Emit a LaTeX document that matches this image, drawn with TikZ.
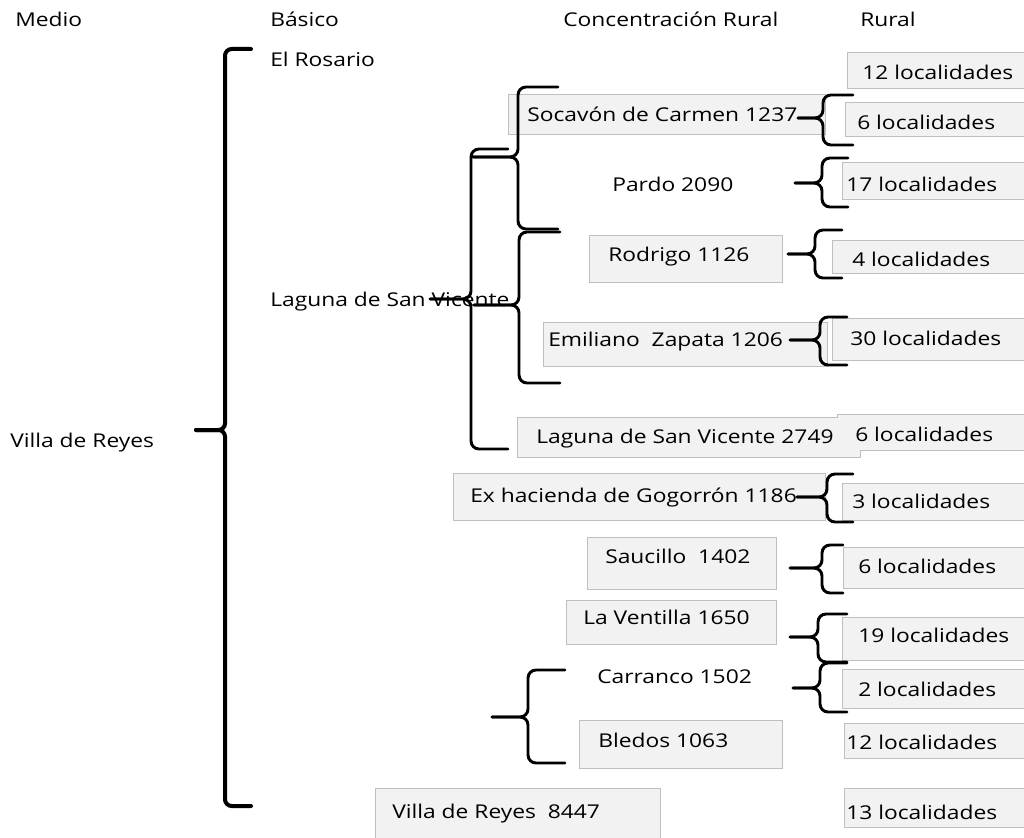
\documentclass[tikz,border=0pt]{standalone}
\usepackage{fontspec}
\setmainfont{Open Sans}[FakeStretch=1.2]
\usepackage{tikz}

% #2 tip x, #3 spine x, #4 top y, #5 tip y, #6 bottom y, #7 end x
\newcommand{\bracegroup}[7][]{%
  \draw[brace,#1] (#7,#4) -- (#3,#4) -- (#3,#5) -- (#2,#5);
  \draw[brace,#1] (#2,#5) -- (#3,#5) -- (#3,#6) -- (#7,#6);}

\begin{document}
\begin{tikzpicture}[x=0.75pt, y=-0.75pt,
    font=\fontsize{14.25}{17}\selectfont,
    txt/.style={anchor=west, inner sep=0pt, text height=10pt, text depth=0pt},
    cell/.style={fill=black!5, draw=black!25, line width=0.75pt},
    cellfill/.style={fill=black!5},
    brace/.style={line width=2.2pt, rounded corners=6pt, line cap=round}]
  \fill[white] (0,0) rectangle (1024,838);
  \useasboundingbox (0,0) rectangle (1024,838);

  % boxes
  \draw[cell] (847,53)  rectangle (1026,89);
  \draw[cell] (845,103) rectangle (1026,137);
  \draw[cell] (842,163) rectangle (1026,199);
  \draw[cell] (832,240) rectangle (1026,273);
  \draw[cell] (832,318) rectangle (1026,360);
  \draw[cell] (842,483) rectangle (1026,520);
  \draw[cell] (843,547) rectangle (1026,588);
  \draw[cell] (842,617) rectangle (1026,660);
  \draw[cell] (842,669) rectangle (1026,708);
  \draw[cell] (844,723) rectangle (1026,758);
  \draw[cell] (844,788) rectangle (1026,827);
  \draw[cell] (508,95)  rectangle (825,135);
  \draw[cell] (589,235) rectangle (782,282);
  \draw[cell] (543,322) rectangle (827,366);
  \draw[cell] (453,473) rectangle (825,520);
  \draw[cell] (587,537) rectangle (776,589);
  \draw[cell] (566,600) rectangle (776,644);
  \draw[cell] (579,720) rectangle (782,768);
  \draw[cell] (375,788) rectangle (660,842);
  \fill[cellfill] (517,417) rectangle (860,457);
  \fill[cellfill] (837,414) rectangle (1026,450);
  \draw[black!25, line width=0.75pt] (517,417) -- (837,417) -- (837,414) -- (1026,414)
    -- (1026,450) -- (860,450) -- (860,457) -- (517,457) -- cycle;

  % headers
  \node[txt] (hmedio) at (15,20)  {Medio};
  \node[txt] (hbasic) at (270,20) {Básico};
  \node[txt] (hconc)  at (563,20) {Concentración Rural};
  \node[txt] (hrural) at (860,20) {Rural};

  \node[txt] (villa)  at (10,441)  {Villa de Reyes};
  \node[txt] (rosar)  at (270,60)  {El Rosario};
  \node[txt] (lagb)   at (270,300) {Laguna de San Vicente};

  \node[txt] (socav)  at (527,115) {Socavón de Carmen 1237};
  \node[txt] (pardo)  at (612,185) {Pardo 2090};
  \node[txt] (rodri)  at (608,255) {Rodrigo 1126};
  \node[txt] (emili)  at (548,340) {Emiliano\ \ Zapata 1206};
  \node[txt] (lagc)   at (536,437) {Laguna de San Vicente 2749};
  \node[txt] (gogor)  at (470,496) {Ex hacienda de Gogorrón 1186};
  \node[txt] (sauci)  at (605,557) {Saucillo\ \ 1402};
  \node[txt] (venti)  at (583,618) {La Ventilla 1650};
  \node[txt] (carra)  at (597,677) {Carranco 1502};
  \node[txt] (bledo)  at (598,741) {Bledos 1063};
  \node[txt] (villc)  at (392,812) {Villa de Reyes\ \ 8447};

  \node[txt] (rrosa)  at (862,73)  {12 localidades};
  \node[txt] (rsoca)  at (857,123) {6 localidades};
  \node[txt] (rpard)  at (846,185) {17 localidades};
  \node[txt] (rrodr)  at (852,260) {4 localidades};
  \node[txt] (remil)  at (850,339) {30 localidades};
  \node[txt] (rlagu)  at (855,435) {6 localidades};
  \node[txt] (rgogo)  at (852,502) {3 localidades};
  \node[txt] (rsauc)  at (858,567) {6 localidades};
  \node[txt] (rvent)  at (858,636) {19 localidades};
  \node[txt] (rcarr)  at (858,690) {2 localidades};
  \node[txt] (rbled)  at (846,743) {12 localidades};
  \node[txt] (rvill)  at (846,813) {13 localidades};

  % brackets
  \bracegroup[line width=3pt, rounded corners=5pt]{196}{225}{49}{430}{806}{251}
  \bracegroup{430}{471}{149}{299}{449}{508}
  \bracegroup{473}{518}{87}{157}{229}{558}
  \bracegroup{474}{519}{232}{305}{383}{560}
  \bracegroup{492}{528}{670}{717}{763}{565}
  \bracegroup{798}{823}{95}{118}{145}{853}
  \bracegroup{795}{822}{158}{183}{207}{848}
  \bracegroup{788}{815}{230}{254}{278}{842}
  \bracegroup{790}{820}{317}{340}{365}{847}
  \bracegroup{797}{827}{474}{497}{522}{853}
  \bracegroup{790}{822}{545}{568}{593}{843}
  \bracegroup{790}{818}{614}{637}{662}{847}
  \bracegroup{793}{820}{663}{688}{712}{847}
\end{tikzpicture}
\end{document}
